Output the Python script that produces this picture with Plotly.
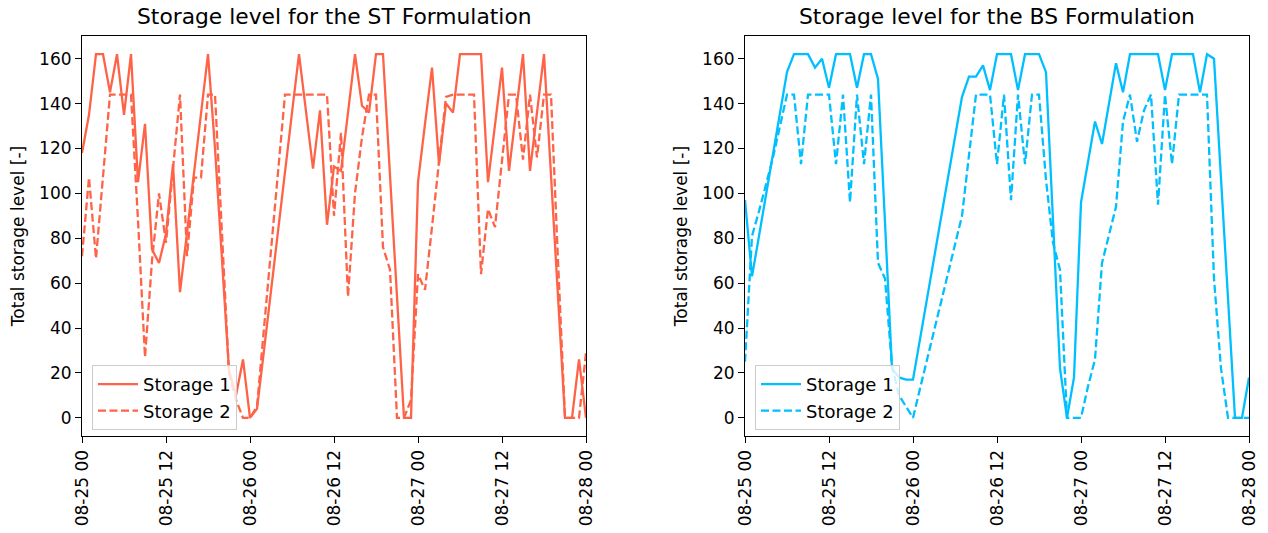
import pandas as pd
import plotly.graph_objects as go

# ---------------- data (hourly, 08-25 00 .. 08-28 00) ----------------
times = pd.date_range("2023-08-25 00:00", periods=73, freq="h")

st_storage1 = [118, 135, 162, 162, 145, 162, 135, 162, 105, 131,
               75, 69, 82, 113, 56, 82, 109, 136, 162, 120,
               70, 21, 10, 26, 0, 4, 30, 57, 83, 109,
               136, 162, 137, 111, 137, 86, 112, 110, 136, 162,
               139, 136, 162, 162, 108, 54, 0, 0, 105, 131,
               156, 113, 140, 136, 162, 162, 162, 162, 105, 130,
               156, 110, 136, 162, 110, 136, 162, 108, 54, 0,
               0, 26, 0]
st_storage2 = [72, 107, 71, 108, 144, 144, 144, 144, 88, 27,
               70, 100, 78, 110, 144, 72, 107, 107, 144, 144,
               80, 20, 8, 0, 0, 5, 40, 75, 110, 144,
               144, 144, 144, 144, 144, 144, 90, 127, 54, 100,
               125, 144, 144, 76, 66, 0, 0, 8, 64, 57,
               85, 113, 143, 144, 144, 144, 144, 64, 93, 85,
               115, 144, 144, 115, 144, 116, 144, 144, 70, 0,
               0, 0, 29]
bs_storage1 = [97, 63, 81, 99, 117, 136, 154, 162, 162, 162,
               156, 160, 147, 162, 162, 162, 147, 162, 162, 151,
               87, 22, 18, 17, 17, 35, 53, 71, 89, 107,
               125, 143, 152, 152, 157, 146, 162, 162, 162, 146,
               162, 162, 162, 154, 88, 22, 0, 18, 96, 114,
               132, 122, 140, 158, 145, 162, 162, 162, 162, 162,
               146, 162, 162, 162, 162, 145, 162, 160, 107, 53,
               0, 0, 18]
bs_storage2 = [25, 81, 92, 104, 116, 130, 144, 144, 113, 144,
               144, 144, 144, 113, 144, 96, 144, 113, 144, 69,
               62, 23, 10, 5, 0, 13, 26, 39, 52, 64,
               77, 90, 117, 144, 144, 144, 113, 144, 97, 144,
               113, 144, 144, 106, 78, 66, 0, 0, 0, 14,
               26, 69, 82, 94, 132, 144, 123, 137, 144, 95,
               144, 113, 144, 144, 144, 144, 144, 62, 22, 0,
               0, 0, 0]

titles = ["Storage level for the ST Formulation", "Storage level for the BS Formulation"]
series_names = ["Storage 1", "Storage 2"]
y_label = "Total storage level [-]"
tick_times = pd.date_range("2023-08-25 00:00", "2023-08-28 00:00", freq="12h")
y_ticks = [0, 20, 40, 60, 80, 100, 120, 140, 160]

colors = ["#FF6347", "#00BFFF"]
FONT = "DejaVu Sans"

fig = go.Figure()

panels = [(st_storage1, st_storage2, "x", "y"),
          (bs_storage1, bs_storage2, "x2", "y2")]
for i, (s1, s2, xa, ya) in enumerate(panels):
    c = colors[i]
    lg = "legend" if i == 0 else "legend2"
    fig.add_trace(go.Scatter(x=times, y=s1, mode="lines", name=series_names[0],
                             line=dict(color=c, width=2.3), xaxis=xa, yaxis=ya,
                             showlegend=True, legend=lg))
    fig.add_trace(go.Scatter(x=times, y=s2, mode="lines", name=series_names[1],
                             line=dict(color=c, width=2.3, dash="8px,3.5px"), xaxis=xa, yaxis=ya,
                             showlegend=True, legend=lg))

W, H = 1268, 533
ml, mr, mt, mb = 82, 19, 36, 97
pw = W - ml - mr
d1 = [0, 504 / pw]
d2 = [(745 - ml) / pw, 1]

TICKF = dict(family=FONT, size=17, color="black")
xcommon = dict(type="date", range=[times[0], times[-1]], tickvals=tick_times,
               tickformat="%m-%d %H", tickangle=-90, showline=True, linecolor="black",
               linewidth=1.1, mirror=True, ticks="outside", ticklen=6, tickcolor="black",
               tickwidth=1.1, showgrid=False, zeroline=False, tickfont=TICKF,
               automargin=False)
ycommon = dict(range=[-8.1, 170.1], tickvals=y_ticks, showline=True, linecolor="black",
               linewidth=1.1, mirror=True, ticks="outside", ticklen=6, tickcolor="black",
               tickwidth=1.1, showgrid=False, zeroline=False, tickfont=TICKF,
               title=dict(text=y_label, font=TICKF, standoff=10), automargin=False)

legend_common = dict(bgcolor="rgba(255,255,255,0.8)", bordercolor="#cccccc", borderwidth=1,
                     font=dict(family=FONT, size=18, color="black"),
                     xanchor="left", yanchor="bottom", tracegroupgap=0, itemwidth=40)

fig.update_layout(
    width=W, height=H,
    margin=dict(l=ml, r=mr, t=mt, b=mb, autoexpand=False),
    paper_bgcolor="white", plot_bgcolor="white",
    xaxis=dict(domain=d1, anchor="y", **xcommon),
    yaxis=dict(domain=[0, 1], anchor="x", **ycommon),
    xaxis2=dict(domain=d2, anchor="y2", **xcommon),
    yaxis2=dict(domain=[0, 1], anchor="x2", **ycommon),
    legend=dict(x=(92 - ml) / pw, y=(436 - 430) / 400, **legend_common),
    legend2=dict(x=(755 - ml) / pw, y=(436 - 430) / 400, **legend_common),
    annotations=[
        dict(text=titles[0], x=(d1[0] + d1[1]) / 2, y=1, xref="paper", yref="paper",
             xanchor="center", yanchor="bottom", yshift=5, showarrow=False,
             font=dict(family=FONT, size=21.8, color="black")),
        dict(text=titles[1], x=(d2[0] + d2[1]) / 2, y=1, xref="paper", yref="paper",
             xanchor="center", yanchor="bottom", yshift=5, showarrow=False,
             font=dict(family=FONT, size=21.8, color="black")),
    ],
)

fig.write_html("out.html")
